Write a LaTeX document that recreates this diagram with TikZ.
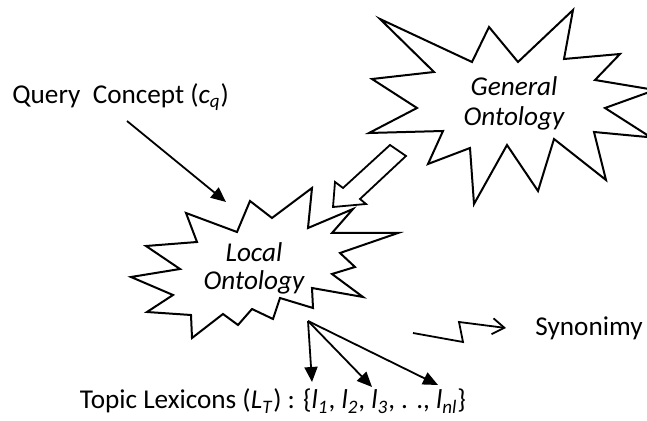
\documentclass[tikz,border=0pt]{standalone}
\usepackage{fontspec}
\setmainfont{Carlito}
\usetikzlibrary{arrows.meta,positioning}
\tikzset{
	>={Triangle[length=7.5pt,width=6.5pt]},
	nodes={align=center},
}
\newcommand{\lx}[1]{\textit{l}\textsubscript{\textit{#1}}}
\begin{document}
\begin{tikzpicture}[x=0.5pt,y=-0.5pt,%
		burst/.style={draw, line width=1pt, fill=white, miter limit=20},%
		link/.style={->, line width=0.9pt},%
		txt/.style={font=\fontsize{13.6}{14.5}\selectfont, inner sep=0pt}]
	\useasboundingbox (0,0) rectangle (647,421);

	% general ontology
	\draw[burst] (647,137) -- (594,132) -- (606,180) -- (554,139) -- (538,191) -- (507,145) -- (474,204) -- (470,148) -- (428,164) -- (443,131) -- (369,133) -- (417,108) -- (372,79) -- (434,72) -- (380,19) -- (472,62) -- (489,27) -- (518,62) -- (573,10) -- (564,59) -- (620,54) -- (595,80) -- (655,90) -- (605,108) -- (655,140) -- cycle;
	\node[txt, font=\fontsize{13.6}{15}\selectfont\itshape] (gen) at (514,103) {General\\Ontology};

	% local ontology
	\draw[burst] (131,277) -- (180,269) -- (146,246) -- (197,242) -- (186,213) -- (237,232) -- (250,201) -- (272,218) -- (312,188) -- (308,228) -- (353,209) -- (332,233) -- (398,233) -- (340,253) -- (355,267) -- (332,274) -- (363,297) -- (312,288) -- (313,308) -- (280,298) -- (273,319) -- (252,309) -- (238,325) -- (223,314) -- (192,338) -- (191,315) -- (147,312) -- (173,295) -- cycle;
	\node[txt, font=\fontsize{13.6}{14}\selectfont\itshape] (loc) at (254,268) {Local\\Ontology};

	% block arrow general -> local
	\draw[burst, line width=0.9pt] (390,145) -- (406,156) -- (360,199) -- (366,204) -- (333,207) -- (335,182) -- (343,188) -- cycle;

	\node[txt, anchor=west] (qc) at (12,97) {Query\ \ Concept (\textit{c}\textsubscript{\textit{q}})};
	\node[txt] (lex) at (273,401) {Topic Lexicons (\textit{L}\textsubscript{\textit{T}}) : \{\lx{1}, \lx{2}, \lx{3}, . ., \lx{nl}\}};
	\node[txt, anchor=west] (syn) at (535,328) {Synonimy};

	\coordinate (qc-start) at (127,121);
	\coordinate (qc-end) at (226,202);
	\coordinate (loc-out) at (308,321);
	\coordinate (l1) at (312,382);
	\coordinate (l2) at (372,387);
	\coordinate (l3) at (438,385);

	\draw[link] (qc-start) to (qc-end);
	\draw[link] (loc-out) to (l1);
	\draw[link] (loc-out) to (l2);
	\draw[link] (loc-out) to (l3);

	% synonymy key
	\coordinate (zz) at (413,333);
	\draw[-{Straight Barb[length=6pt,width=8pt]}, line width=0.9pt] (zz) -- (463,342) -- (459,322) -- (506,328);
\end{tikzpicture}
\end{document}
